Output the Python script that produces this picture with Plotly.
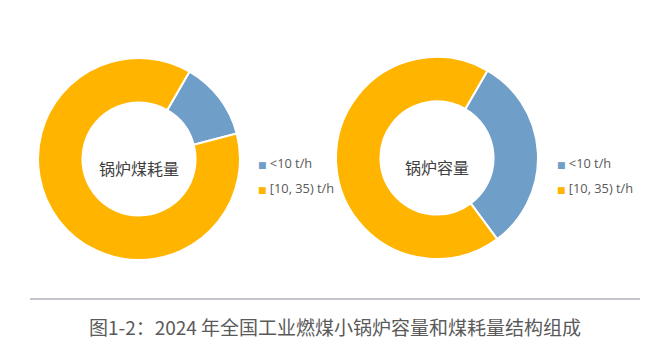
import plotly.graph_objects as go

labels = ["<10 t/h", "[10, 35) t/h"]
coal_use = [12.6, 87.4]      # 锅炉煤耗量 share (%)
capacity = [31.5, 68.5]      # 锅炉容量 share (%)
colors = ["#6f9ec8", "#ffb400"]
center_titles = ["锅炉煤耗量", "锅炉容量"]
caption = "图1-2：2024 年全国工业燃煤小锅炉容量和煤耗量结构组成"

W, H = 670, 359
CJK = "Noto Sans CJK SC"

fig = go.Figure()

def dom(cx, cy, r):
    return dict(x=[(cx - r) / W, (cx + r) / W],
                y=[(H - cy - r) / H, (H - cy + r) / H])

centers = [(139, 159), (437, 158)]
for vals, (cx, cy) in zip([coal_use, capacity], centers):
    fig.add_trace(go.Pie(
        labels=labels, values=vals, hole=0.56, sort=False,
        direction="clockwise", rotation=30,
        marker=dict(colors=colors, line=dict(color="white", width=2)),
        textinfo="none", hoverinfo="label+percent",
        domain=dom(cx, cy, 101), showlegend=False,
    ))

for lg in ["legend", "legend2"]:
    for lab, col in zip(labels, colors):
        name = (f"<span style='color:{col};font-size:9px;font-family:DejaVu Sans'>■</span> "
                + lab.replace("<", "&lt;"))
        fig.add_trace(go.Scatter(
            x=[None], y=[None], mode="markers", name=name,
            marker=dict(symbol="square", size=1, color="rgba(0,0,0,0)"),
            legend=lg, legendgroup=lg + lab, showlegend=True,
        ))

legend_common = dict(
    font=dict(family="Open Sans", size=12.8, color="#595959"),
    bgcolor="rgba(0,0,0,0)", borderwidth=0, tracegroupgap=6,
    xanchor="left", yanchor="top", itemclick=False,
)

annotations = [dict(text=caption, xref="paper", yref="paper",
                    x=0.5, y=1 - 326 / H, xanchor="center", yanchor="middle",
                    showarrow=False,
                    font=dict(family=CJK, size=19, color="#5a5a5a"))]
for t, (cx, cy) in zip(center_titles, centers):
    annotations.append(dict(text=t, xref="paper", yref="paper",
                            x=cx / W, y=1 - (cy + 9) / H,
                            xanchor="center", yanchor="middle", showarrow=False,
                            font=dict(family=CJK, size=16, color="#404040")))

fig.update_layout(
    width=W, height=H,
    margin=dict(l=0, r=0, t=0, b=0),
    paper_bgcolor="white", plot_bgcolor="white",
    xaxis=dict(visible=False), yaxis=dict(visible=False),
    legend=dict(x=218 / W, y=1 - 148 / H, **legend_common),
    legend2=dict(x=517 / W, y=1 - 148 / H, **legend_common),
    shapes=[dict(type="line", xref="paper", yref="paper",
                 x0=30 / W, x1=640 / W, y0=1 - 299 / H, y1=1 - 299 / H,
                 line=dict(color="#c4c4cc", width=2))],
    annotations=annotations,
)

fig.write_html("out.html", config={"displayModeBar": False},
               post_script="document.body.style.margin='0px';document.body.style.overflow='hidden';")
